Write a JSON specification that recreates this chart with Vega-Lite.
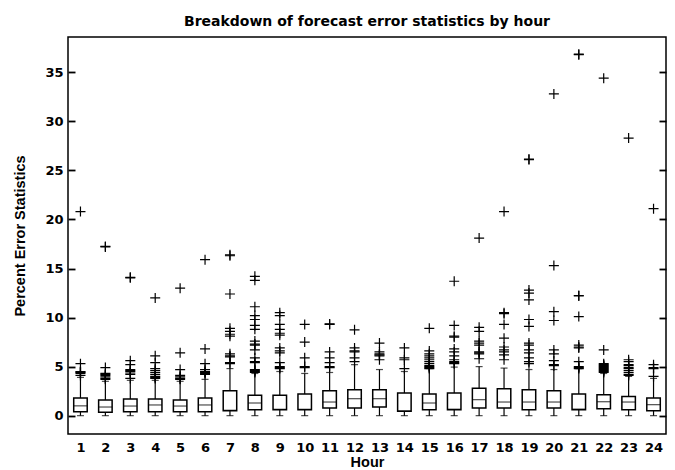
{
  "$schema": "https://vega.github.io/schema/vega-lite/v6.json",
  "autosize": "none",
  "width": 598,
  "height": 397,
  "padding": {"left": 68, "top": 37, "right": 9, "bottom": 36},
  "background": "white",
  "title": {"text": "Breakdown of forecast error statistics by hour", "font": "DejaVu Sans", "fontSize": 14, "fontWeight": "bold", "color": "black", "offset": 8},
  "config": {
    "view": {"stroke": "black", "strokeWidth": 1.5},
    "axis": {"grid": false, "labelFont": "DejaVu Sans", "labelFontWeight": "bold", "labelFontSize": 13, "labelColor": "black", "titleFont": "Liberation Sans", "titleFontWeight": "bold", "titleFontSize": 14.5, "titleColor": "black", "tickColor": "black", "domain": false}
  },
  "datasets": {
    "boxes": [
      {"hour": 1, "lo": 0, "q1": 0.4, "med": 1.0, "q3": 1.8, "hi": 3.9},
      {"hour": 2, "lo": 0, "q1": 0.35, "med": 0.88, "q3": 1.6, "hi": 3.5},
      {"hour": 3, "lo": 0, "q1": 0.4, "med": 0.98, "q3": 1.7, "hi": 3.6},
      {"hour": 4, "lo": 0, "q1": 0.4, "med": 1.09, "q3": 1.7, "hi": 3.6},
      {"hour": 5, "lo": 0, "q1": 0.4, "med": 0.98, "q3": 1.6, "hi": 3.5},
      {"hour": 6, "lo": 0, "q1": 0.4, "med": 1.09, "q3": 1.8, "hi": 3.7},
      {"hour": 7, "lo": 0, "q1": 0.5, "med": 0.55, "q3": 2.55, "hi": 4.8},
      {"hour": 8, "lo": 0, "q1": 0.6, "med": 1.29, "q3": 2.07, "hi": 4.3},
      {"hour": 9, "lo": 0, "q1": 0.6, "med": 0.65, "q3": 2.07, "hi": 4.5},
      {"hour": 10, "lo": 0, "q1": 0.6, "med": 0.65, "q3": 2.2, "hi": 4.3},
      {"hour": 11, "lo": 0, "q1": 0.78, "med": 1.39, "q3": 2.54, "hi": 4.4},
      {"hour": 12, "lo": 0, "q1": 0.78, "med": 1.73, "q3": 2.65, "hi": 5.2},
      {"hour": 13, "lo": 0, "q1": 0.88, "med": 1.73, "q3": 2.65, "hi": 4.7},
      {"hour": 14, "lo": 0, "q1": 0.44, "med": 0.48, "q3": 2.3, "hi": 4.5},
      {"hour": 15, "lo": 0, "q1": 0.61, "med": 1.29, "q3": 2.2, "hi": 4.8},
      {"hour": 16, "lo": 0, "q1": 0.61, "med": 0.66, "q3": 2.3, "hi": 4.95},
      {"hour": 17, "lo": 0, "q1": 0.78, "med": 1.63, "q3": 2.8, "hi": 5.0},
      {"hour": 18, "lo": 0, "q1": 0.78, "med": 1.39, "q3": 2.75, "hi": 4.85},
      {"hour": 19, "lo": 0, "q1": 0.61, "med": 1.39, "q3": 2.65, "hi": 4.7},
      {"hour": 20, "lo": 0, "q1": 0.78, "med": 1.39, "q3": 2.54, "hi": 4.7},
      {"hour": 21, "lo": 0, "q1": 0.61, "med": 0.66, "q3": 2.2, "hi": 4.8},
      {"hour": 22, "lo": 0, "q1": 0.71, "med": 1.42, "q3": 2.12, "hi": 4.3},
      {"hour": 23, "lo": 0, "q1": 0.61, "med": 1.39, "q3": 1.96, "hi": 4.0},
      {"hour": 24, "lo": 0, "q1": 0.51, "med": 1.12, "q3": 1.8, "hi": 3.8}
    ],
    "outliers": [
      {"hour": 1, "v": 4.1}, {"hour": 1, "v": 4.3}, {"hour": 1, "v": 4.4}, {"hour": 1, "v": 4.45}, {"hour": 1, "v": 4.5}, {"hour": 1, "v": 5.3}, {"hour": 1, "v": 20.8},
      {"hour": 2, "v": 3.7}, {"hour": 2, "v": 3.8}, {"hour": 2, "v": 3.95}, {"hour": 2, "v": 4.1}, {"hour": 2, "v": 4.2}, {"hour": 2, "v": 4.3}, {"hour": 2, "v": 4.9}, {"hour": 2, "v": 17.2}, {"hour": 2, "v": 17.25},
      {"hour": 3, "v": 3.8}, {"hour": 3, "v": 4.2}, {"hour": 3, "v": 4.35}, {"hour": 3, "v": 4.5}, {"hour": 3, "v": 4.6}, {"hour": 3, "v": 4.7}, {"hour": 3, "v": 5.2}, {"hour": 3, "v": 5.6}, {"hour": 3, "v": 14.05}, {"hour": 3, "v": 14.1},
      {"hour": 4, "v": 3.8}, {"hour": 4, "v": 3.9}, {"hour": 4, "v": 4.0}, {"hour": 4, "v": 4.2}, {"hour": 4, "v": 4.4}, {"hour": 4, "v": 4.6}, {"hour": 4, "v": 4.8}, {"hour": 4, "v": 5.4}, {"hour": 4, "v": 6.1}, {"hour": 4, "v": 12.0},
      {"hour": 5, "v": 3.7}, {"hour": 5, "v": 3.8}, {"hour": 5, "v": 3.95}, {"hour": 5, "v": 4.1}, {"hour": 5, "v": 4.7}, {"hour": 5, "v": 6.4}, {"hour": 5, "v": 13.0},
      {"hour": 6, "v": 4.2}, {"hour": 6, "v": 4.3}, {"hour": 6, "v": 4.4}, {"hour": 6, "v": 4.5}, {"hour": 6, "v": 4.7}, {"hour": 6, "v": 5.3}, {"hour": 6, "v": 6.8}, {"hour": 6, "v": 15.9},
      {"hour": 7, "v": 5.3}, {"hour": 7, "v": 5.4}, {"hour": 7, "v": 6.0}, {"hour": 7, "v": 6.1}, {"hour": 7, "v": 6.3}, {"hour": 7, "v": 8.1}, {"hour": 7, "v": 8.3}, {"hour": 7, "v": 8.6}, {"hour": 7, "v": 8.9}, {"hour": 7, "v": 12.4}, {"hour": 7, "v": 16.3}, {"hour": 7, "v": 16.4},
      {"hour": 8, "v": 4.4}, {"hour": 8, "v": 4.5}, {"hour": 8, "v": 4.6}, {"hour": 8, "v": 4.7}, {"hour": 8, "v": 5.4}, {"hour": 8, "v": 5.5}, {"hour": 8, "v": 5.9}, {"hour": 8, "v": 6.7}, {"hour": 8, "v": 7.2}, {"hour": 8, "v": 7.3}, {"hour": 8, "v": 7.6}, {"hour": 8, "v": 8.8}, {"hour": 8, "v": 9.2}, {"hour": 8, "v": 9.8}, {"hour": 8, "v": 10.2}, {"hour": 8, "v": 11.1}, {"hour": 8, "v": 13.8}, {"hour": 8, "v": 14.2},
      {"hour": 9, "v": 4.8}, {"hour": 9, "v": 4.9}, {"hour": 9, "v": 5.0}, {"hour": 9, "v": 5.4}, {"hour": 9, "v": 6.4}, {"hour": 9, "v": 6.6}, {"hour": 9, "v": 6.9}, {"hour": 9, "v": 8.2}, {"hour": 9, "v": 8.4}, {"hour": 9, "v": 8.8}, {"hour": 9, "v": 9.3}, {"hour": 9, "v": 10.2}, {"hour": 9, "v": 10.5},
      {"hour": 10, "v": 4.9}, {"hour": 10, "v": 5.0}, {"hour": 10, "v": 5.9}, {"hour": 10, "v": 7.5}, {"hour": 10, "v": 9.3},
      {"hour": 11, "v": 4.9}, {"hour": 11, "v": 5.0}, {"hour": 11, "v": 5.4}, {"hour": 11, "v": 5.9}, {"hour": 11, "v": 6.5}, {"hour": 11, "v": 9.3}, {"hour": 11, "v": 9.35},
      {"hour": 12, "v": 5.5}, {"hour": 12, "v": 5.9}, {"hour": 12, "v": 6.5}, {"hour": 12, "v": 6.6}, {"hour": 12, "v": 6.9}, {"hour": 12, "v": 8.75},
      {"hour": 13, "v": 5.7}, {"hour": 13, "v": 6.1}, {"hour": 13, "v": 6.2}, {"hour": 13, "v": 6.3}, {"hour": 13, "v": 6.5}, {"hour": 13, "v": 7.4},
      {"hour": 14, "v": 4.8}, {"hour": 14, "v": 5.7}, {"hour": 14, "v": 5.9}, {"hour": 14, "v": 6.9},
      {"hour": 15, "v": 4.8}, {"hour": 15, "v": 4.9}, {"hour": 15, "v": 5.0}, {"hour": 15, "v": 5.1}, {"hour": 15, "v": 5.3}, {"hour": 15, "v": 5.5}, {"hour": 15, "v": 5.7}, {"hour": 15, "v": 5.9}, {"hour": 15, "v": 6.1}, {"hour": 15, "v": 6.3}, {"hour": 15, "v": 6.6}, {"hour": 15, "v": 8.9},
      {"hour": 16, "v": 5.3}, {"hour": 16, "v": 5.4}, {"hour": 16, "v": 5.5}, {"hour": 16, "v": 5.7}, {"hour": 16, "v": 6.1}, {"hour": 16, "v": 6.5}, {"hour": 16, "v": 6.8}, {"hour": 16, "v": 8.0}, {"hour": 16, "v": 8.1}, {"hour": 16, "v": 9.2}, {"hour": 16, "v": 13.7},
      {"hour": 17, "v": 5.8}, {"hour": 17, "v": 6.3}, {"hour": 17, "v": 6.4}, {"hour": 17, "v": 6.5}, {"hour": 17, "v": 7.2}, {"hour": 17, "v": 7.4}, {"hour": 17, "v": 7.6}, {"hour": 17, "v": 8.6}, {"hour": 17, "v": 9.0}, {"hour": 17, "v": 18.1},
      {"hour": 18, "v": 5.7}, {"hour": 18, "v": 6.2}, {"hour": 18, "v": 6.5}, {"hour": 18, "v": 6.7}, {"hour": 18, "v": 7.0}, {"hour": 18, "v": 7.9}, {"hour": 18, "v": 9.3}, {"hour": 18, "v": 10.4}, {"hour": 18, "v": 10.5}, {"hour": 18, "v": 20.8},
      {"hour": 19, "v": 5.3}, {"hour": 19, "v": 5.5}, {"hour": 19, "v": 5.9}, {"hour": 19, "v": 6.4}, {"hour": 19, "v": 6.7}, {"hour": 19, "v": 7.2}, {"hour": 19, "v": 7.4}, {"hour": 19, "v": 9.1}, {"hour": 19, "v": 9.8}, {"hour": 19, "v": 11.8}, {"hour": 19, "v": 12.5}, {"hour": 19, "v": 12.8}, {"hour": 19, "v": 26.1}, {"hour": 19, "v": 26.15},
      {"hour": 20, "v": 5.1}, {"hour": 20, "v": 5.2}, {"hour": 20, "v": 5.6}, {"hour": 20, "v": 6.3}, {"hour": 20, "v": 6.7}, {"hour": 20, "v": 9.7}, {"hour": 20, "v": 10.6}, {"hour": 20, "v": 15.3}, {"hour": 20, "v": 32.8},
      {"hour": 21, "v": 4.8}, {"hour": 21, "v": 4.9}, {"hour": 21, "v": 5.0}, {"hour": 21, "v": 5.5}, {"hour": 21, "v": 6.9}, {"hour": 21, "v": 7.0}, {"hour": 21, "v": 7.2}, {"hour": 21, "v": 10.1}, {"hour": 21, "v": 12.2}, {"hour": 21, "v": 12.25}, {"hour": 21, "v": 36.8}, {"hour": 21, "v": 36.85},
      {"hour": 22, "v": 4.4}, {"hour": 22, "v": 4.5}, {"hour": 22, "v": 4.6}, {"hour": 22, "v": 4.7}, {"hour": 22, "v": 4.8}, {"hour": 22, "v": 4.9}, {"hour": 22, "v": 5.0}, {"hour": 22, "v": 5.1}, {"hour": 22, "v": 5.2}, {"hour": 22, "v": 5.3}, {"hour": 22, "v": 6.7}, {"hour": 22, "v": 34.4},
      {"hour": 23, "v": 4.1}, {"hour": 23, "v": 4.2}, {"hour": 23, "v": 4.4}, {"hour": 23, "v": 4.6}, {"hour": 23, "v": 4.8}, {"hour": 23, "v": 4.9}, {"hour": 23, "v": 5.1}, {"hour": 23, "v": 5.2}, {"hour": 23, "v": 5.5}, {"hour": 23, "v": 5.7}, {"hour": 23, "v": 28.3},
      {"hour": 24, "v": 4.0}, {"hour": 24, "v": 4.8}, {"hour": 24, "v": 4.9}, {"hour": 24, "v": 5.2}, {"hour": 24, "v": 21.1}
    ]
  },
  "resolve": {"axis": {"y": "independent"}},
  "layer": [
    {
      "data": {"name": "boxes"},
      "mark": {"type": "rule", "color": "black", "strokeWidth": 1.2},
      "encoding": {
        "x": {"field": "hour", "type": "ordinal", "scale": {"type": "point", "padding": 0.5},
              "axis": {"labelAngle": 0, "ticks": false, "labelPadding": 7, "title": "Hour", "titlePadding": 1}},
        "y": {"field": "lo", "type": "quantitative", "scale": {"domain": [-1.87, 38.6], "nice": false, "zero": false},
              "axis": {"orient": "left", "values": [0,5,10,15,20,25,30,35], "ticks": true, "offset": -7, "tickSize": 7, "tickWidth": 1.8, "labelPadding": 5, "title": "Percent Error Statistics", "titlePadding": 17}},
        "y2": {"field": "hi"}
      }
    },
    {
      "data": {"name": "boxes"},
      "mark": {"type": "tick", "orient": "horizontal", "color": "black", "size": 7, "thickness": 1.2},
      "encoding": {
        "x": {"field": "hour", "type": "ordinal"},
        "y": {"field": "lo", "type": "quantitative",
              "axis": {"orient": "right", "values": [0,5,10,15,20,25,30,35], "ticks": true, "offset": -7, "tickSize": 7, "tickWidth": 1.8, "labels": false, "title": null}}
      }
    },
    {
      "data": {"name": "boxes"},
      "mark": {"type": "tick", "orient": "horizontal", "color": "black", "size": 7, "thickness": 1.2},
      "encoding": {
        "x": {"field": "hour", "type": "ordinal"},
        "y": {"field": "hi", "type": "quantitative", "axis": null}
      }
    },
    {
      "data": {"name": "boxes"},
      "mark": {"type": "bar", "width": 13.5, "fill": "white", "stroke": "black", "strokeWidth": 1.5},
      "encoding": {
        "x": {"field": "hour", "type": "ordinal"},
        "y": {"field": "q1", "type": "quantitative", "axis": null},
        "y2": {"field": "q3"}
      }
    },
    {
      "data": {"name": "boxes"},
      "mark": {"type": "tick", "orient": "horizontal", "color": "black", "size": 13.5, "thickness": 1.2},
      "encoding": {
        "x": {"field": "hour", "type": "ordinal"},
        "y": {"field": "med", "type": "quantitative", "axis": null}
      }
    },
    {
      "data": {"name": "outliers"},
      "mark": {"type": "point", "shape": "M-1,0L1,0M0,-1L0,1", "filled": false, "stroke": "black", "strokeWidth": 1.2, "size": 100, "opacity": 1},
      "encoding": {
        "x": {"field": "hour", "type": "ordinal"},
        "y": {"field": "v", "type": "quantitative", "axis": null}
      }
    }
  ]
}
